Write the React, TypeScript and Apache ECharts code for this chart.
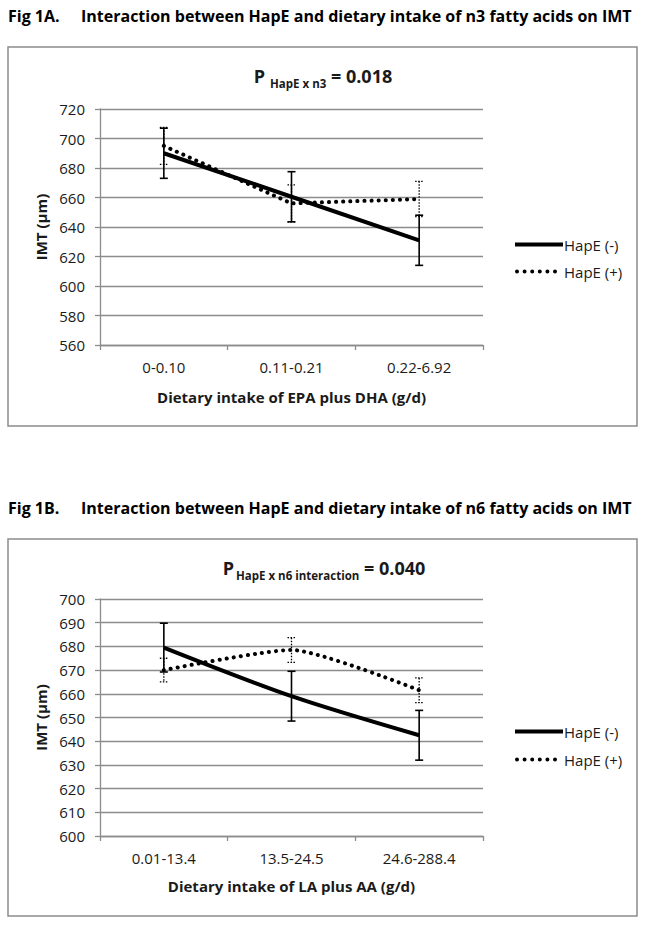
import React, { useEffect, useRef } from "react";
import * as echarts from "echarts";

// ---- Data ----
const n3Categories = ["0-0.10", "0.11-0.21", "0.22-6.92"];
const n3MinusMean = [690, 660.5, 631];
const n3MinusErr = [17, 17, 17];
const n3PlusMean = [695, 656, 659];
const n3PlusErr = [12.5, 12.5, 12];
const n3YTicks = { min: 560, max: 720, interval: 20 };

const n6Categories = ["0.01-13.4", "13.5-24.5", "24.6-288.4"];
const n6MinusMean = [679.5, 659, 642.5];
const n6MinusErr = [10.3, 10.5, 10.5];
const n6PlusMean = [670, 678.5, 661.5];
const n6PlusErr = [5, 5.2, 5.2];
const n6YTicks = { min: 600, max: 700, interval: 10 };

const seriesNames = ["HapE (-)", "HapE (+)"];

const FONT = "'Open Sans', 'Noto Sans', sans-serif";
const GRID_COLOR = "#8c8c8c";
const TEXT = "#1a1a1a";

// legend icons (solid bar, row of round dots)
const SOLID_ICON = "path://M0,0L48,0L48,4L0,4Z";
const DOT_ICON = (() => {
  let d = "path://M0,0L48,0Z";
  for (let i = 0; i < 6; i++) {
    const cx = 2 + i * 7.6;
    d += `M${cx - 2},2a2,2 0 1,0 4,0a2,2 0 1,0 -4,0Z`;
  }
  return d;
})();

function errData(mean: number[], err: number[]) {
  return mean.map((m, i) => [i, m, err[i]]);
}

function errorBarSeries(name: string, idx: number, data: number[][], dotted: boolean) {
  return {
    type: "custom",
    name,
    xAxisIndex: idx,
    yAxisIndex: idx,
    z: 1,
    silent: true,
    data,
    renderItem: (params: any, api: any) => {
      const x = api.value(0);
      const m = api.value(1);
      const e = api.value(2);
      const top = api.coord([x, m + e]);
      const bot = api.coord([x, m - e]);
      const w = 4;
      const style = {
        stroke: "#000",
        lineWidth: dotted ? 1.3 : 1.6,
        lineDash: dotted ? [1.5, 1.5] : null,
      };
      return {
        type: "group",
        children: [
          { type: "line", shape: { x1: top[0], y1: top[1], x2: bot[0], y2: bot[1] }, style },
          { type: "line", shape: { x1: top[0] - w, y1: top[1], x2: top[0] + w, y2: top[1] }, style },
          { type: "line", shape: { x1: bot[0] - w, y1: bot[1], x2: bot[0] + w, y2: bot[1] }, style },
        ],
      };
    },
  };
}

function lineSeries(name: string, idx: number, data: number[], dotted: boolean, smooth: number | boolean) {
  return {
    type: "line",
    name,
    xAxisIndex: idx,
    yAxisIndex: idx,
    z: 3,
    data,
    symbol: "none",
    smooth,
    lineStyle: dotted
      ? { color: "#000", width: 4, type: [0.1, 7], cap: "round" }
      : { color: "#000", width: 4, type: "solid", cap: "butt" },
    itemStyle: { color: "#000" },
  };
}

function xAxis(idx: number, cats: string[], name: string, nameGap: number) {
  return {
    type: "category",
    gridIndex: idx,
    data: cats,
    boundaryGap: true,
    name,
    nameLocation: "middle",
    nameGap,
    nameTextStyle: { fontFamily: FONT, fontSize: 15, fontWeight: "bold", color: TEXT },
    axisLine: { lineStyle: { color: GRID_COLOR, width: 1.3 } },
    axisTick: { show: true, length: 5, lineStyle: { color: GRID_COLOR, width: 1.3 } },
    axisLabel: { fontFamily: FONT, fontSize: 15, color: TEXT, margin: 14 },
    splitLine: { show: false },
  };
}

function yAxis(idx: number, t: { min: number; max: number; interval: number }) {
  return {
    type: "value",
    gridIndex: idx,
    min: t.min,
    max: t.max,
    interval: t.interval,
    name: "IMT (µm)",
    nameLocation: "middle",
    nameGap: 48,
    nameRotate: 90,
    nameTextStyle: { fontFamily: FONT, fontSize: 15, fontWeight: "bold", color: TEXT },
    axisLine: { show: true, lineStyle: { color: GRID_COLOR, width: 1.3 } },
    axisTick: { show: true, length: 5, lineStyle: { color: GRID_COLOR, width: 1.3 } },
    axisLabel: { fontFamily: FONT, fontSize: 15, color: TEXT, margin: 15 },
    splitLine: { show: true, lineStyle: { color: GRID_COLOR, width: 1.3 } },
  };
}

function legend(top: number, gap: number) {
  return {
    orient: "vertical",
    left: 510,
    top,
    itemWidth: 48,
    itemHeight: 4,
    itemGap: gap,
    data: [
      { name: seriesNames[0], icon: SOLID_ICON },
      { name: seriesNames[1], icon: DOT_ICON },
    ],
    textStyle: { fontFamily: FONT, fontSize: 15, color: TEXT, padding: [0, 0, 0, -4] },
    selectedMode: false,
  };
}

function subtitle(x: number, y: number, sub: string, value: string) {
  return {
    type: "text",
    x,
    y,
    style: {
      text: `{a|P}{b|${sub}}{a| = ${value}}`,
      textAlign: "center",
      textVerticalAlign: "middle",
      rich: {
        a: { fontFamily: FONT, fontSize: 18, fontWeight: "bold", fill: TEXT, lineHeight: 26, verticalAlign: "middle" },
        b: { fontFamily: FONT, fontSize: 11.5, fontWeight: "bold", fill: TEXT, lineHeight: 12, verticalAlign: "bottom", padding: [0, 0, 0, 2] },
      },
    },
  };
}

function headerTexts(y: number, fig: string, text: string) {
  return [
    { type: "text", x: 8, y, style: { text: fig, fontFamily: FONT, fontSize: 16, fontWeight: "bold", fill: "#000", textVerticalAlign: "middle" } },
    { type: "text", x: 81, y, style: { text, fontFamily: FONT, fontSize: 16, fontWeight: "bold", fill: "#000", textVerticalAlign: "middle" } },
  ];
}

export default function App() {
  const ref = useRef<HTMLDivElement>(null);
  useEffect(() => {
    if (!ref.current) return;
    const chart = echarts.init(ref.current, null, { renderer: "svg" });
    chart.setOption({
      animation: false,
      backgroundColor: "#fff",
      grid: [
        { left: 100, width: 383, top: 109, height: 236 },
        { left: 100, width: 383, top: 599, height: 237 },
      ],
      xAxis: [
        xAxis(0, n3Categories, "Dietary intake of EPA plus DHA (g/d)", 44),
        xAxis(1, n6Categories, "Dietary intake of LA plus AA (g/d)", 42),
      ],
      yAxis: [yAxis(0, n3YTicks), yAxis(1, n6YTicks)],
      legend: [legend(232, 12), legend(719, 13)],
      series: [
        errorBarSeries("n3 minus err", 0, errData(n3MinusMean, n3MinusErr), false),
        errorBarSeries("n3 plus err", 0, errData(n3PlusMean, n3PlusErr), true),
        lineSeries(seriesNames[0], 0, n3MinusMean, false, false),
        lineSeries(seriesNames[1], 0, n3PlusMean, true, false),
        errorBarSeries("n6 minus err", 1, errData(n6MinusMean, n6MinusErr), false),
        errorBarSeries("n6 plus err", 1, errData(n6PlusMean, n6PlusErr), true),
        lineSeries(seriesNames[0], 1, n6MinusMean, false, 0.3),
        lineSeries(seriesNames[1], 1, n6PlusMean, true, 0.2),
      ],
      graphic: [
        ...headerTexts(16, "Fig 1A.", "Interaction between HapE and dietary intake of n3 fatty acids on IMT"),
        ...headerTexts(508, "Fig 1B.", "Interaction between HapE and dietary intake of n6 fatty acids on IMT"),
        { type: "rect", shape: { x: 8, y: 47, width: 629, height: 379 }, style: { fill: "none", stroke: GRID_COLOR, lineWidth: 1.5 }, z: -1 },
        { type: "rect", shape: { x: 8, y: 539, width: 629, height: 377 }, style: { fill: "none", stroke: GRID_COLOR, lineWidth: 1.5 }, z: -1 },
        subtitle(323, 76, " HapE x n3", "0.018"),
        subtitle(324, 568, "HapE x n6 interaction", "0.040"),
      ],
    });
    return () => chart.dispose();
  }, []);
  return <div ref={ref} style={{ position: "fixed", left: 0, top: 0, width: 649, height: 926 }} />;
}
